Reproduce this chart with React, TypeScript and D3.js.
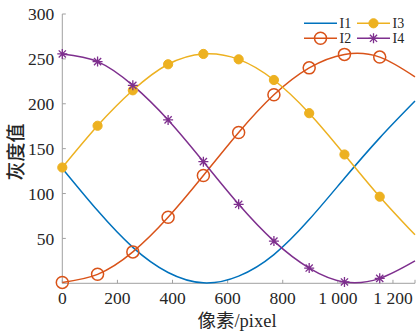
import React from "react";
import * as d3 from "d3";

const pixels = [0, 128, 256, 384, 512, 640, 768, 896, 1024, 1152, 1280];
const I1 = [128, 81, 40, 12, 0.5, 8, 32, 71, 117, 162, 203];
const I2 = [1, 10, 35, 73.5, 120, 168, 210, 240, 255, 252, 230];
const I3 = [129, 175.5, 215, 244, 255.5, 249.5, 226.5, 189.5, 143.5, 96.5, 54];
const I4 = [255.5, 247, 220.5, 182, 135.5, 88, 47, 17, 1.5, 5.5, 25];
const xTicks = [0, 200, 400, 600, 800, 1000, 1200];
const xTickLabels = ["0", "200", "400", "600", "800", "1 000", "1 200"];
const yTicks = [50, 100, 150, 200, 250, 300];
const seriesNames = ["I1", "I2", "I3", "I4"];
const colors = ["#0072BD", "#D95319", "#EDB120", "#7E2F8E"];

const W = 417, H = 332;
const x = d3.scaleLinear().domain([0, 1280]).range([62.3, 415]);
const y = d3.scaleLinear().domain([0, 300]).range([283.3, 14]);

function Marker({ kind, cx, cy, color }: { kind: number; cx: number; cy: number; color: string }) {
  if (kind === 1) return <circle cx={cx} cy={cy} r={6} fill="none" stroke={color} strokeWidth={1.5} />;
  if (kind === 2) return <circle cx={cx} cy={cy} r={4.6} fill={color} stroke={color} strokeWidth={1} />;
  if (kind === 3) {
    const r = 5, d = r * 0.72;
    const p = `M${cx - r},${cy}L${cx + r},${cy}M${cx},${cy - r}L${cx},${cy + r}M${cx - d},${cy - d}L${cx + d},${cy + d}M${cx - d},${cy + d}L${cx + d},${cy - d}`;
    return <path d={p} stroke={color} strokeWidth={1.3} fill="none" />;
  }
  return null;
}

export default function App() {
  const all = [I1, I2, I3, I4];
  const line = d3
    .line<number>()
    .x((_, i) => x(pixels[i]))
    .y((v) => y(v))
    .curve(d3.curveNatural);
  const axisColor = "#a0a0a0";
  const textColor = "#262626";
  const serif = "'Liberation Serif', 'Times New Roman', serif";
  const cjk = "'Noto Sans CJK SC', sans-serif";

  const legendItems = [
    { i: 0, lx: 304, ly: 23.3 },
    { i: 2, lx: 357, ly: 23.3 },
    { i: 1, lx: 304, ly: 38.3 },
    { i: 3, lx: 357, ly: 38.3 },
  ];

  return (
    <svg width={W} height={H} style={{ position: "absolute", left: 0, top: 0, background: "#fff" }}>
      {/* axes */}
      <line x1={x(0)} x2={x(0)} y1={y(300)} y2={y(0)} stroke={axisColor} strokeWidth={1} />
      <line x1={x(0)} x2={x(1280)} y1={y(0)} y2={y(0)} stroke={axisColor} strokeWidth={1} />
      {yTicks.map((t) => (
        <g key={"y" + t}>
          <line x1={x(0)} x2={x(0) + 3.5} y1={y(t)} y2={y(t)} stroke={axisColor} />
          <text x={x(0) - 8} y={y(t)} dy="0.35em" textAnchor="end" fontFamily={serif} fontSize={17.5} fill={textColor}>
            {t}
          </text>
        </g>
      ))}
      {xTicks.map((t, i) => (
        <g key={"x" + t}>
          <line x1={x(t)} x2={x(t)} y1={y(0)} y2={y(0) - 3.5} stroke={axisColor} />
          <text x={x(t)} y={y(0) + 20.8} textAnchor="middle" fontFamily={serif} fontSize={17.5} fill={textColor}>
            {xTickLabels[i]}
          </text>
        </g>
      ))}
      <line x1={x(1280)} x2={x(1280)} y1={y(0)} y2={y(0) - 3.5} stroke={axisColor} />
      {/* series */}
      {all.map((vals, k) => (
        <path key={"l" + k} d={line(vals) || ""} fill="none" stroke={colors[k]} strokeWidth={1.5} />
      ))}
      {all.map((vals, k) =>
        k === 0
          ? null
          : vals.map((v, i) =>
              pixels[i] <= 1152 ? <Marker key={"m" + k + "-" + i} kind={k} cx={x(pixels[i])} cy={y(v)} color={colors[k]} /> : null
            )
      )}
      {/* legend */}
      {legendItems.map(({ i, lx, ly }) => (
        <g key={"lg" + i}>
          <line x1={lx} x2={lx + 33} y1={ly} y2={ly} stroke={colors[i]} strokeWidth={1.5} />
          <Marker kind={i} cx={lx + 16.5} cy={ly} color={colors[i]} />
          <text x={lx + 35.5} y={ly} dy="0.35em" fontFamily={serif} fontSize={14} fill={textColor}>
            {seriesNames[i]}
          </text>
        </g>
      ))}
      {/* axis labels */}
      <text x={237} y={326.5} textAnchor="middle" fontSize={18.5} fill={textColor}>
        <tspan fontFamily={cjk}>像素</tspan>
        <tspan fontFamily={serif}>/pixel</tspan>
      </text>
      <text
        transform={`translate(23,152) rotate(-90)`}
        textAnchor="middle"
        fontFamily={cjk}
        fontSize={19}
        fontWeight={500}
        fill={textColor}
      >
        灰度值
      </text>
    </svg>
  );
}
